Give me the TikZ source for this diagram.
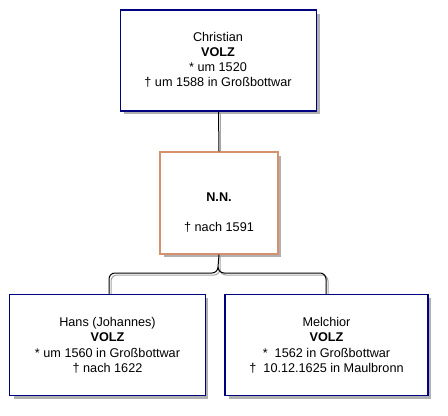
\documentclass[tikz,border=0pt]{standalone}
\usepackage{fontspec}
\setmainfont{Liberation Sans}
\begin{document}
\begin{tikzpicture}[x=0.75pt,y=-0.75pt,
  person/.style={draw=navyc,line width=1.1pt,fill=white,minimum width=196*0.75pt,minimum height=101*0.75pt,inner sep=0pt},
  partner/.style={draw=tanc,line width=0.9pt,fill=white,minimum width=118*0.75pt,minimum height=102*0.75pt,inner sep=0pt},
  shadowbox/.style={fill=shadowc,draw=none},
  txt/.style={font=\fontsize{9.5}{11.5}\selectfont,inner sep=0pt,anchor=base},
  bold/.style={txt,font=\fontsize{9.5}{11.5}\selectfont\bfseries},
  conn/.style={draw=black,line width=0.75pt},
  connsh/.style={draw=connshc,line width=0.75pt}
]
\definecolor{navyc}{RGB}{0,0,128}
\definecolor{tanc}{RGB}{214,144,110}
\definecolor{shadowc}{RGB}{176,176,176}
\definecolor{connshc}{RGB}{165,165,165}
\useasboundingbox[fill=white] (0,0) rectangle (448,416);
% shadows
\fill[shadowbox] (124,14) rectangle (320,114);
\fill[shadowbox] (164,156) rectangle (281,257);
\fill[shadowbox] (14,298) rectangle (208,399);
\fill[shadowbox] (229,298) rectangle (431,399);
% connector shadows
\draw[connsh] (220,113) -- (220,152);
\draw[connsh] (220,256) -- (220,269) to[out=-90,in=0] (214,275) -- (117,275) to[out=180,in=90] (111,281) -- (111,294);
\draw[connsh] (220,269) to[out=-90,in=180] (226,275) -- (322,275) to[out=0,in=90] (328,281) -- (328,294);
% boxes
\node[person] (christian) at (218.5,60.5) {};
\node[partner] (nn) at (219,203) {};
\node[person] (hans) at (107.5,345) {};
\node[person,minimum width=203*0.75pt] (melchior) at (326.5,345) {};
% connectors
\draw[conn] (christian.south) -- (nn.north);
\coordinate (j) at (218,267);
\draw[conn] (nn.south) -- (j) to[out=-90,in=0] (212,273) -- (115,273) to[out=180,in=90] (109,279) -- (109,294);
\draw[conn] (j) to[out=-90,in=180] (224,273) -- (320,273) to[out=0,in=90] (326,279) -- (326,294);
% texts
\node[txt] (c1) at (218,42) {Christian};
\node[bold] (c2) at (218,57) {VOLZ};
\node[txt] (c3) at (218,72) {* um 1520};
\node[txt] (c4) at (218,87) {† um 1588 in Großbottwar};
\node[bold] (n1) at (219,201) {N.N.};
\node[txt] (n2) at (219,231) {† nach 1591};
\node[txt] (h1) at (107.5,326) {Hans (Johannes)};
\node[bold] (h2) at (107.5,341) {VOLZ};
\node[txt] (h3) at (107.5,357) {* um 1560 in Großbottwar};
\node[txt] (h4) at (107.5,372) {† nach 1622};
\node[txt] (m1) at (326.5,326) {Melchior};
\node[bold] (m2) at (326.5,341) {VOLZ};
\node[txt] (m3) at (326.5,357) {*\ \ 1562 in Großbottwar};
\node[txt] (m4) at (326.5,372) {†\ \ 10.12.1625 in Maulbronn};
\end{tikzpicture}
\end{document}
